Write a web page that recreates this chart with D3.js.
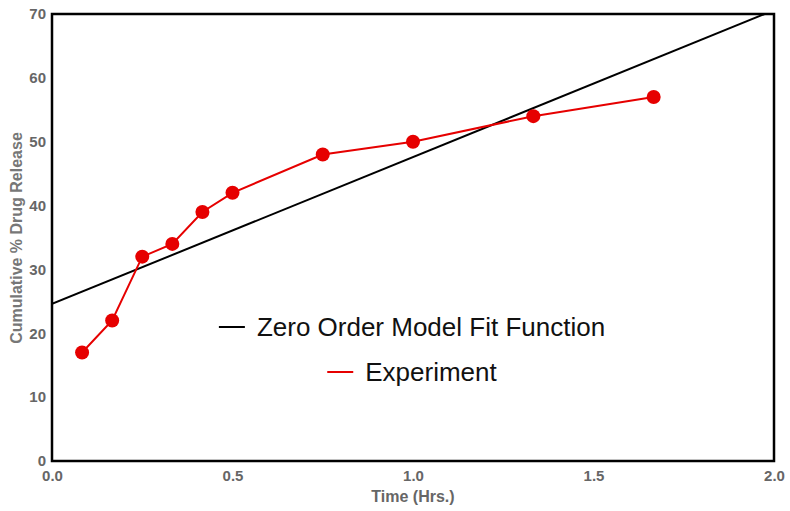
<!DOCTYPE html>
<html>
<head>
<meta charset="utf-8">
<script src="https://cdn.jsdelivr.net/npm/d3@7"></script>
<style>
  body { margin: 0; background: #fff; }
  text { font-family: "Liberation Sans", Arial, sans-serif; }
</style>
</head>
<body>
<svg id="chart" width="790" height="511"></svg>
<script>
// experiment data (time in hours, % released)
var timeHrs = [5/60, 10/60, 15/60, 20/60, 25/60, 30/60, 45/60, 60/60, 80/60, 100/60];
var release = [17, 22, 32, 34, 39, 42, 48, 50, 54, 57];

// zero order fit: y = k0 * t + c
var fitIntercept = 24.6;
var fitSlope = 23;
var fitRange = [0, 2];

var xTicks = [0, 0.5, 1.0, 1.5, 2.0];
var yTicks = [0, 10, 20, 30, 40, 50, 60, 70];

var legendLabels = ["Zero Order Model Fit Function", "Experiment"];
var legendColors = ["#000", "#e60000"];

var svg = d3.select("#chart");
var pLeft = 52, pRight = 774, pTop = 14, pBottom = 461;

var x = d3.scaleLinear().domain([0, 2]).range([pLeft, pRight]);
var y = d3.scaleLinear().domain([0, 70]).range([pBottom, pTop]);

svg.append("clipPath").attr("id", "clip")
  .append("rect").attr("x", pLeft).attr("y", pTop)
  .attr("width", pRight - pLeft).attr("height", pBottom - pTop);

// fit line
var fitPts = fitRange.map(function(t) { return [t, fitIntercept + fitSlope * t]; });
svg.append("path")
  .attr("clip-path", "url(#clip)")
  .attr("d", d3.line().x(function(d) { return x(d[0]); }).y(function(d) { return y(d[1]); })(fitPts))
  .attr("fill", "none").attr("stroke", "#000").attr("stroke-width", 2);

// experiment
var expPts = timeHrs.map(function(t, i) { return [t, release[i]]; });
svg.append("path")
  .attr("d", d3.line().x(function(d) { return x(d[0]); }).y(function(d) { return y(d[1]); })(expPts))
  .attr("fill", "none").attr("stroke", legendColors[1]).attr("stroke-width", 2);

svg.selectAll("circle.pt").data(expPts).enter().append("circle")
  .attr("class", "pt")
  .attr("cx", function(d) { return x(d[0]); })
  .attr("cy", function(d) { return y(d[1]); })
  .attr("r", 7)
  .attr("fill", legendColors[1]);

// frame
svg.append("rect")
  .attr("x", pLeft).attr("y", pTop)
  .attr("width", pRight - pLeft).attr("height", pBottom - pTop)
  .attr("fill", "none").attr("stroke", "#000").attr("stroke-width", 2.5);

// axes (labels only, ticks hidden)
var xAxis = svg.append("g").attr("transform", "translate(0," + pBottom + ")")
  .call(d3.axisBottom(x).tickValues(xTicks).tickFormat(d3.format(".1f")).tickSize(0).tickPadding(9));
var yAxis = svg.append("g").attr("transform", "translate(" + pLeft + ",0)")
  .call(d3.axisLeft(y).tickValues(yTicks).tickFormat(d3.format("d")).tickSize(0).tickPadding(6));

[xAxis, yAxis].forEach(function(g) {
  g.select(".domain").remove();
  g.selectAll("text")
    .attr("fill", "#666").attr("font-size", 15).attr("font-weight", "bold")
    .attr("font-family", "Liberation Sans, Arial, sans-serif");
});

svg.append("text")
  .attr("x", 413).attr("y", 502)
  .attr("text-anchor", "middle")
  .attr("fill", "#666").attr("font-size", 16).attr("font-weight", "bold")
  .text("Time (Hrs.)");

svg.append("text")
  .attr("transform", "translate(22,238) rotate(-90)")
  .attr("text-anchor", "middle")
  .attr("fill", "#777").attr("font-size", 16).attr("font-weight", "bold")
  .text("Cumulative % Drug Release");

// legend, each row centred
var legendCx = 412;
var legendY = [327, 372];
legendLabels.forEach(function(lbl, i) {
  var g = svg.append("g");
  var t = g.append("text")
    .attr("y", legendY[i] + 9)
    .attr("font-size", 26).attr("fill", "#111")
    .text(lbl);
  var w = t.node().getComputedTextLength();
  var total = 26 + 12 + w;
  var x0 = legendCx - total / 2;
  g.append("line")
    .attr("x1", x0).attr("x2", x0 + 26)
    .attr("y1", legendY[i]).attr("y2", legendY[i])
    .attr("stroke", legendColors[i]).attr("stroke-width", 2);
  t.attr("x", x0 + 38);
});
</script>
</body>
</html>
